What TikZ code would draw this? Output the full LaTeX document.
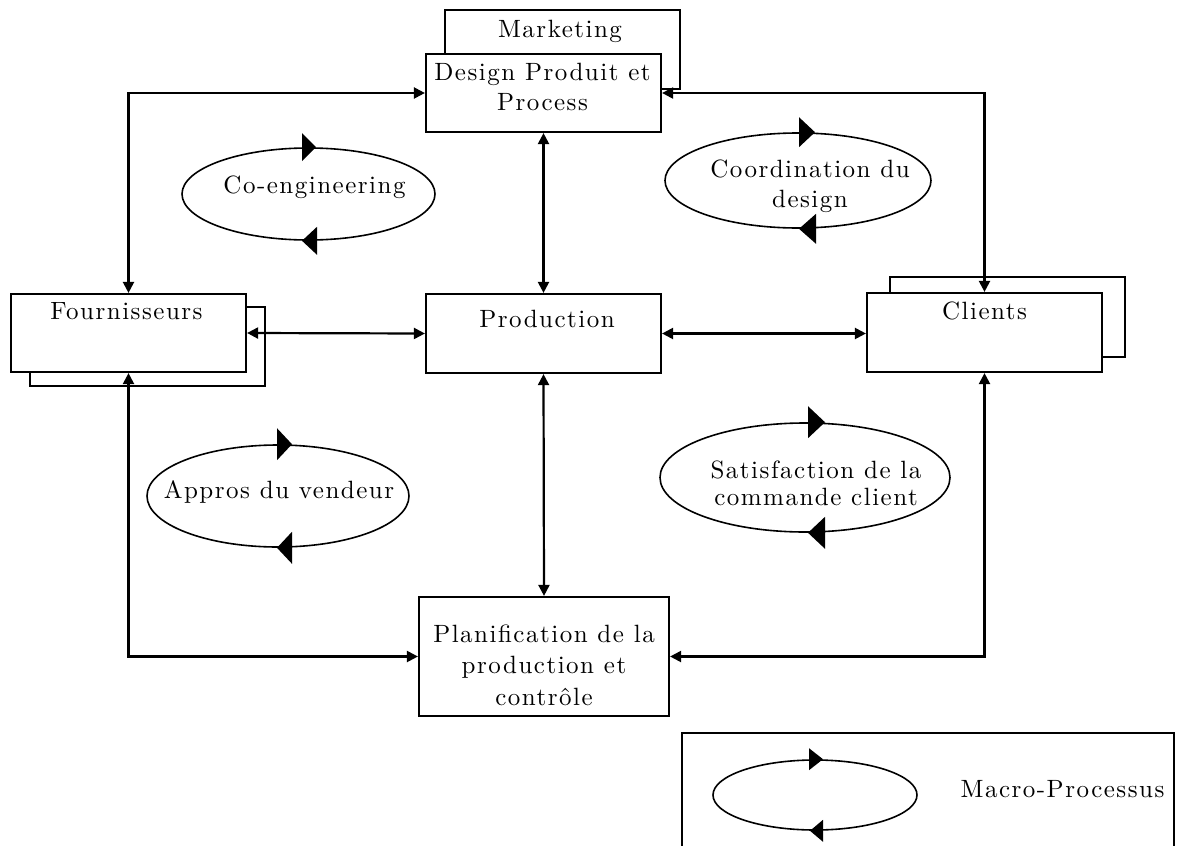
\documentclass[tikz,border=0pt]{standalone}
\usepackage{fontspec}
\setmainfont{lmroman10-regular.otf}[LetterSpace=6]
\usetikzlibrary{arrows.meta,shapes.geometric,calc}

\tikzset{
  every node/.style={font=\fontsize{25}{30}\selectfont},
  box/.style={draw, line width=2.2pt, rectangle, inner sep=0pt, fill=white,
              minimum width=235pt, minimum height=78pt},
  oval/.style={draw, line width=1.6pt, ellipse, inner sep=0pt},
  % multi-line labels sit on the baseline of their last line
  lbl/.style={anchor=base, inner sep=0pt, align=center},
  link/.style={line width=2.2pt,
               {Triangle[length=11pt,width=11pt]}-{Triangle[length=11pt,width=11pt]}},
  tip/.style={fill=black},
}

\begin{document}
\begin{tikzpicture}[x=1pt,y=-1pt]
\useasboundingbox (0,0) rectangle (1181,846);
\clip (0,0) rectangle (1181,846);

% ---------- boxes (stacked ones: back box first) ----------
\node[box, minimum height=79pt] (mkt) at (562.5,49.5) {};
\node[lbl] (mkttxt) at (560,37) {Marketing};
\node[box] (design) at (543.5,93) {};
\node[lbl] (designtxt) at (542.5,110) {Design Produit et\\Process};

\node[box, minimum height=79pt] (fournback) at (147.5,346.5) {};
\node[box] (fourn) at (128.5,333) {};
\node[lbl] (fourntxt) at (126.5,319) {Fournisseurs};

\node[box, minimum height=79pt] (prod) at (543.5,333.5) {};
\node[lbl] (prodtxt) at (547,327) {Production};

\node[box, minimum height=80pt] (clientsback) at (1007.5,317) {};
\node[box, minimum height=79pt] (clients) at (984.5,332.5) {};
\node[lbl] (clientstxt) at (984.5,319) {Clients};

\node[box, minimum width=250pt, minimum height=119pt] (plan) at (544,656.5) {};
\node[lbl, font=\fontsize{25}{31.5}\selectfont] (plantxt) at (544,705)
  {Planification de la\\production et\\contrôle};

% ---------- connectors ----------
\draw[link] (fourn.north) |- (design.west);
\draw[link] (clients.north) |- (design.east);
\draw[link] (design.south) -- (prod.north);
\draw[link] (fourn.east) -- (prod.west);
\draw[link] (prod.east) -- (prod.east -| clients.west);
\draw[link] (prod.south) -- (plan.north);
\draw[link] (fourn.south) |- (plan.west);
\draw[link] (clients.south) |- (plan.east);

% ---------- macro-processes ----------
\node[oval, minimum width=253pt, minimum height=92pt] (coeng) at (308.5,194) {};
\node[lbl] (coengtxt) at (314.5,193) {Co-engineering};
\fill[tip] ($(coeng.north)+(7.5,0)$) -- ++(-14,-14) -- ++(0,28) -- cycle;
\fill[tip] ($(coeng.south)+(-6.5,0)$) -- ++(15,-14) -- ++(0,28) -- cycle;

\node[oval, minimum width=266pt, minimum height=95pt] (coord) at (798,180.5) {};
\node[lbl] (coordtxt) at (810,207) {Coordination du\\design};
\fill[tip] ($(coord.north)+(17,0)$) -- ++(-16,-15) -- ++(0,30) -- cycle;
\fill[tip] ($(coord.south)+(1,0)$) -- ++(17,-15) -- ++(0,30) -- cycle;

\node[oval, minimum width=262pt, minimum height=102pt] (appros) at (278,496) {};
\node[lbl] (approstxt) at (279,498) {Appros du vendeur};
\fill[tip] ($(appros.north)+(14,0)$) -- ++(-15,-16) -- ++(0,32) -- cycle;
\fill[tip] ($(appros.south)+(-1,0)$) -- ++(15,-16) -- ++(0,32) -- cycle;

\node[oval, minimum width=290pt, minimum height=109pt] (satis) at (805,477.5) {};
\node[lbl, font=\fontsize{25}{27}\selectfont] (satistxt) at (816,505)
  {Satisfaction de la\\commande client};
\fill[tip] ($(satis.north)+(20,0)$) -- ++(-17,-16) -- ++(0,32) -- cycle;
\fill[tip] ($(satis.south)+(3,0)$) -- ++(17,-16) -- ++(0,32) -- cycle;

% ---------- legend ----------
\node[box, minimum width=492pt, minimum height=168pt, anchor=north west]
  (legend) at (681,732) {};
\node[oval, minimum width=204pt, minimum height=70pt] (legoval) at (815,795) {};
\fill[tip] ($(legoval.north)+(8,0)$) -- ++(-14,-11) -- ++(0,22) -- cycle;
\fill[tip] ($(legoval.south)+(-5,0)$) -- ++(13,-11) -- ++(0,22) -- cycle;
\node[lbl] (legtxt) at (1062.5,797) {Macro-Processus};
\end{tikzpicture}
\end{document}
